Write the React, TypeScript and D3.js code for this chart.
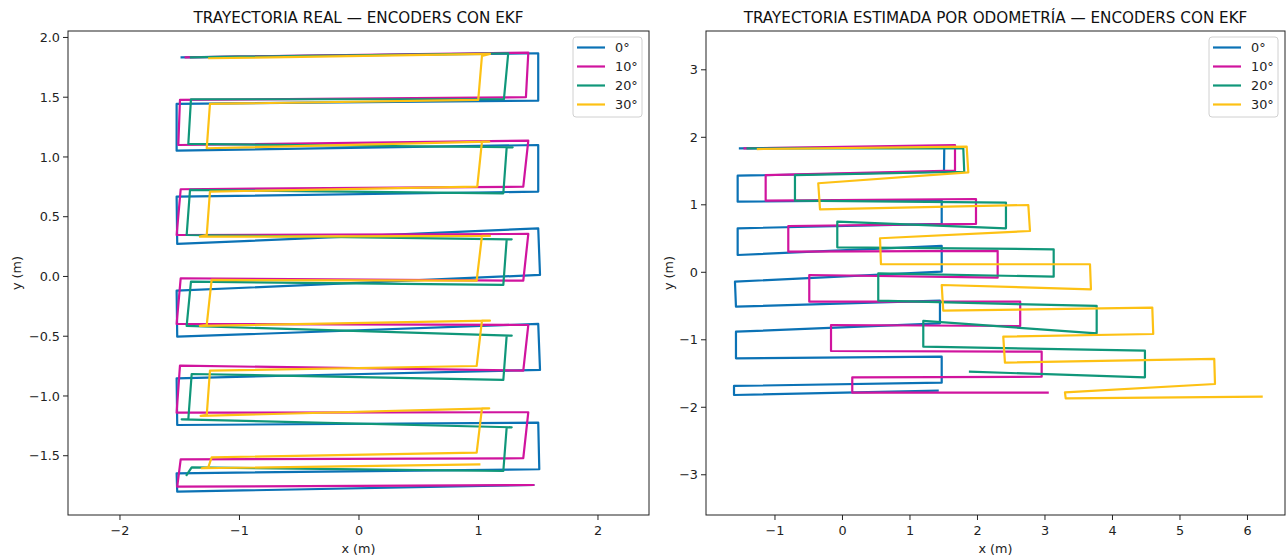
import React from 'react';
import * as d3 from 'd3';

type Pt = [number, number];

// Heading offsets tested and their colours
const SERIES_LABELS = ['0°', '10°', '20°', '30°'];
const SERIES_COLORS = ['#0b72b5', '#d0149e', '#10977a', '#fdc114'];

// EKF-fused trajectory (metres)
const REAL_0: Pt[] = [[-1.484,1.834],[1.500,1.868],[1.500,1.471],[-1.526,1.444],[-1.526,1.053],[1.500,1.100],[1.500,0.710],[-1.526,0.668],[-1.521,0.272],[1.500,0.403],[1.515,0.013],[-1.526,-0.119],[-1.521,-0.504],[1.500,-0.397],[1.515,-0.782],[-1.526,-0.852],[-1.521,-1.243],[1.500,-1.223],[1.509,-1.613],[-1.526,-1.647],[-1.521,-1.801],[1.459,-1.745]];
const REAL_10: Pt[] = [[-1.45,1.834],[1.417,1.873],[1.397,1.500],[-1.498,1.477],[-1.512,1.100],[1.417,1.136],[1.375,0.751],[-1.492,0.730],[-1.526,0.347],[1.417,0.356],[1.375,-0.035],[-1.492,-0.015],[-1.526,-0.397],[1.417,-0.406],[1.375,-0.788],[-1.498,-0.746],[-1.526,-1.140],[1.417,-1.136],[1.375,-1.521],[-1.492,-1.530],[-1.521,-1.759],[1.459,-1.745]];
const REAL_20: Pt[] = [[-1.406,1.834],[1.249,1.868],[1.213,1.483],[-1.406,1.483],[-1.428,1.109],[1.286,1.081],[1.236,1.081],[1.208,0.696],[-1.414,0.724],[-1.442,0.347],[1.278,0.311],[1.236,0.311],[1.208,-0.071],[-1.406,-0.044],[-1.442,-0.414],[1.278,-0.495],[1.236,-0.495],[1.208,-0.866],[-1.400,-0.816],[-1.428,-1.195],[-1.484,-1.195],[1.278,-1.262],[1.236,-1.262],[1.208,-1.628],[-1.400,-1.597],[-1.442,-1.661]];
const REAL_30: Pt[] = [[-1.253,1.826],[1.096,1.862],[1.029,1.845],[0.998,1.477],[-1.247,1.444],[-1.274,1.073],[1.090,1.128],[1.029,1.128],[0.990,0.751],[-1.247,0.710],[-1.274,0.347],[-1.331,0.333],[1.096,0.339],[1.029,0.339],[0.985,-0.035],[-1.233,-0.029],[-1.274,-0.406],[-1.331,-0.414],[1.096,-0.370],[1.029,-0.370],[0.985,-0.749],[-1.247,-0.788],[-1.274,-1.159],[-1.325,-1.167],[1.090,-1.103],[1.029,-1.103],[0.985,-1.474],[-1.233,-1.513],[-1.261,-1.597],[-1.316,-1.605],[1.007,-1.572]];

// Dead-reckoning trajectory from wheel odometry (metres)
const ODO_0: Pt[] = [[-1.519,1.837],[1.508,1.852],[1.504,1.490],[-1.553,1.431],[-1.553,1.046],[1.470,1.071],[1.470,0.716],[-1.553,0.652],[-1.553,0.256],[1.470,0.390],[1.470,0.009],[-1.593,-0.139],[-1.578,-0.510],[1.444,-0.421],[1.444,-0.756],[-1.578,-0.880],[-1.578,-1.274],[1.470,-1.250],[1.470,-1.636],[-1.607,-1.684],[-1.607,-1.818],[1.410,-1.754]];
const ODO_10: Pt[] = [[-1.45,1.837],[1.667,1.886],[1.667,1.505],[-1.138,1.441],[-1.138,1.061],[1.978,1.086],[1.978,0.716],[-0.803,0.686],[-0.803,0.305],[2.299,0.316],[2.299,-0.080],[-0.492,-0.040],[-0.492,-0.436],[2.633,-0.436],[2.633,-0.796],[-0.170,-0.781],[-0.170,-1.166],[2.951,-1.176],[2.951,-1.547],[0.145,-1.556],[0.145,-1.784],[3.040,-1.784]];
const ODO_20: Pt[] = [[-1.406,1.837],[1.790,1.837],[1.804,1.490],[-0.704,1.441],[-0.704,1.061],[2.422,1.031],[2.422,0.652],[-0.077,0.750],[-0.077,0.370],[3.129,0.341],[3.129,-0.065],[0.530,-0.015],[0.530,-0.421],[3.766,-0.499],[3.766,-0.904],[1.197,-0.721],[1.197,-1.102],[4.481,-1.161],[4.481,-1.556],[1.889,-1.473]];
const ODO_30: Pt[] = [[-1.253,1.826],[1.840,1.861],[1.864,1.481],[-0.359,1.319],[-0.333,0.933],[2.753,0.997],[2.778,0.612],[0.556,0.504],[0.570,0.119],[3.667,0.119],[3.681,-0.252],[1.470,-0.188],[1.493,-0.569],[4.590,-0.524],[4.604,-0.914],[2.382,-0.954],[2.407,-1.339],[5.508,-1.284],[5.519,-1.655],[3.296,-1.778],[3.307,-1.867],[6.210,-1.843]];

// Axis ticks
const REAL_X_TICKS = [-2, -1, 0, 1, 2];
const REAL_Y_TICKS = [-1.5, -1.0, -0.5, 0.0, 0.5, 1.0, 1.5, 2.0];
const ODO_X_TICKS = [-1, 0, 1, 2, 3, 4, 5, 6];
const ODO_Y_TICKS = [-3, -2, -1, 0, 1, 2, 3];

// Axis limits (equal aspect)
const REAL_X_LIM: Pt = [-2.435, 2.427];
const REAL_Y_LIM: Pt = [-1.996, 2.054];
const ODO_X_LIM: Pt = [-2.022, 6.556];
const ODO_Y_LIM: Pt = [-3.596, 3.575];

const FONT = '"DejaVu Sans", sans-serif';
const TICK_FS = 12.8;
const fmtMinus = (s: string) => s.replace('-', '\u2212');
const fmtInt = (v: number) => String(v);
const fmtOne = (v: number) => (Math.abs(v) < 1e-9 ? '0.0' : v.toFixed(1));

interface PanelProps {
  left: number; top: number; right: number; bottom: number;
  xLim: Pt; yLim: Pt;
  xTicks: number[]; yTicks: number[];
  xFmt: (v: number) => string;
  yFmt: (v: number) => string;
  title: string;
  series: Pt[][];
  yLabelX: number;
}

function Panel(p: PanelProps) {
  const x = d3.scaleLinear().domain(p.xLim).range([p.left, p.right]);
  const y = d3.scaleLinear().domain(p.yLim).range([p.bottom, p.top]);
  const line = d3.line<Pt>().x(d => x(d[0])).y(d => y(d[1]));
  const clipId = `clip-${p.left}`;
  const legW = 69, legH = 80;
  const legX = p.right - 7 - legW;
  const legY = p.top + 6;
  const cx = (p.left + p.right) / 2;
  const cy = (p.top + p.bottom) / 2;
  return (
    <g>
      <defs>
        <clipPath id={clipId}>
          <rect x={p.left} y={p.top} width={p.right - p.left} height={p.bottom - p.top} />
        </clipPath>
      </defs>
      <g clipPath={`url(#${clipId})`}>
        {p.series.map((s, i) => (
          <path key={i} d={line(s) || ''} fill="none" stroke={SERIES_COLORS[i]}
            strokeWidth={2.2} strokeLinejoin="round" strokeLinecap="square" />
        ))}
      </g>
      <rect x={p.left} y={p.top} width={p.right - p.left} height={p.bottom - p.top}
        fill="none" stroke="#222" strokeWidth={1} />
      {p.xTicks.map(t => (
        <g key={`x${t}`}>
          <line x1={x(t)} x2={x(t)} y1={p.bottom} y2={p.bottom + 5} stroke="#222" />
          <text x={x(t)} y={p.bottom + 19.5} textAnchor="middle" fontSize={TICK_FS} fontFamily={FONT} fill="#222">
            {fmtMinus(p.xFmt(t))}
          </text>
        </g>
      ))}
      {p.yTicks.map(t => (
        <g key={`y${t}`}>
          <line x1={p.left - 5} x2={p.left} y1={y(t)} y2={y(t)} stroke="#222" />
          <text x={p.left - 8} y={y(t) + 4.6} textAnchor="end" fontSize={TICK_FS} fontFamily={FONT} fill="#222">
            {fmtMinus(p.yFmt(t))}
          </text>
        </g>
      ))}
      <text x={cx} y={p.bottom + 38} textAnchor="middle" fontSize={TICK_FS} fontFamily={FONT} fill="#222">x (m)</text>
      <text transform={`translate(${p.yLabelX},${cy}) rotate(-90)`} textAnchor="middle" fontSize={TICK_FS}
        fontFamily={FONT} fill="#222">y (m)</text>
      <text x={cx} y={p.top - 8.5} textAnchor="middle" fontSize={15.2} fontFamily={FONT} fill="#111">{p.title}</text>
      <g>
        <rect x={legX} y={legY} width={legW} height={legH} rx={3} fill="#fff" fillOpacity={0.85}
          stroke="#d0d0d0" strokeWidth={1} />
        {SERIES_LABELS.map((lab, i) => {
          const ry = legY + 10.5 + i * 19;
          return (
            <g key={lab}>
              <line x1={legX + 4} x2={legX + 32} y1={ry} y2={ry} stroke={SERIES_COLORS[i]} strokeWidth={2.2} />
              <text x={legX + 42} y={ry + 4.6} fontSize={TICK_FS} fontFamily={FONT} fill="#222">{lab}</text>
            </g>
          );
        })}
      </g>
    </g>
  );
}

export default function App() {
  return (
    <svg width={1287} height={559} style={{ position: 'absolute', left: 0, top: 0, background: '#fff' }}>
      <rect x={0} y={0} width={1287} height={559} fill="#fff" />
      <Panel left={68} top={31} right={649} bottom={515}
        xLim={REAL_X_LIM} yLim={REAL_Y_LIM}
        xTicks={REAL_X_TICKS} yTicks={REAL_Y_TICKS}
        xFmt={fmtInt} yFmt={fmtOne}
        title="TRAYECTORIA REAL — ENCODERS CON EKF"
        series={[REAL_0, REAL_10, REAL_20, REAL_30]}
        yLabelX={21} />
      <Panel left={706} top={31} right={1285} bottom={515}
        xLim={ODO_X_LIM} yLim={ODO_Y_LIM}
        xTicks={ODO_X_TICKS} yTicks={ODO_Y_TICKS}
        xFmt={fmtInt} yFmt={fmtInt}
        title="TRAYECTORIA ESTIMADA POR ODOMETRÍA — ENCODERS CON EKF"
        series={[ODO_0, ODO_10, ODO_20, ODO_30]}
        yLabelX={673} />
    </svg>
  );
}
